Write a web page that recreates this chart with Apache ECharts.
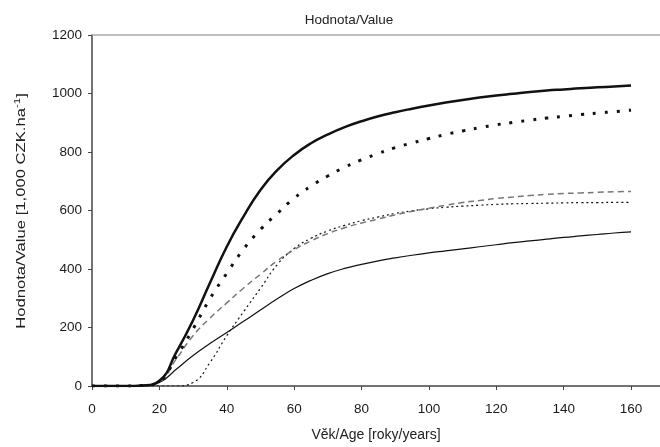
<!DOCTYPE html>
<html><head><meta charset="utf-8">
<script src="https://cdn.jsdelivr.net/npm/echarts@6/dist/echarts.min.js"></script>
<style>html,body{margin:0;padding:0;background:#fff}#c{width:660px;height:447px}</style>
</head><body><div id="c"></div>
<script>
var xTicks = [0,20,40,60,80,100,120,140,160];
var ages = [0,5,10,15,20,25,30,35,40,45,50,55,60,65,70,75,80,85,90,95,100,105,110,115,120,125,130,135,140,145,150,155,160];
var s1 = [0,0,0,2,18,115,225,352,476,580,670,738,790,830,860,885,905,922,936,948,959,969,978,986,993,999,1005,1010,1014,1018,1021,1024,1027];
var s2 = [0,0,0,2,16,100,195,298,385,468,535,590,642,683,718,748,773,795,815,831,846,860,872,883,893,901,909,916,922,928,933,938,943];
var s3 = [0,0,0,2,15,92,172,232,284,335,382,428,466,496,521,541,557,571,585,597,608,618,627,634,641,646,651,655,658,660,662,664,665];
var s4 = [0,0,0,0,0,0,12,80,172,254,334,415,470,505,530,549,565,578,590,599,606,611,615,618,621,623,624,625,626,627,627,628,628];
var s5 = [0,0,0,0,12,57,104,145,183,221,260,298,333,361,384,402,416,428,438,447,455,462,469,476,483,490,496,502,508,513,518,523,527];
var yName = 'Hodnota/Value [1,000 CZK.ha{sup|-1}]';

function pairs(a, v){ return a.map(function(x,i){ return [x, v[i]]; }); }

var chart = echarts.init(document.getElementById('c'));
var font = 'Liberation Sans, Arial, sans-serif';
chart.setOption({
  animation: false,
  title: { text: 'Hodnota/Value', left: 344, top: 8, textAlign: 'center',
    textStyle: { fontFamily: font, fontSize: 13.5, fontWeight: 'normal', color: '#222' } },
  grid: { left: 92, right: 0, top: 35, bottom: 59 },
  graphic: [{
    type: 'text', x: 21, y: 211, rotation: Math.PI / 2, scaleX: 1.28, scaleY: 1.05,
    style: {
      text: yName, font: '13px "Liberation Sans", Arial, sans-serif', fill: '#222',
      align: 'center', verticalAlign: 'middle',
      rich: { sup: { font: '9px "Liberation Sans", Arial, sans-serif', fill: '#222', verticalAlign: 'top', padding: [0,0,6,0] } }
    }
  }],
  xAxis: [{
    type: 'value', min: 0, max: 168.6,
    name: 'Věk/Age [roky/years]', nameLocation: 'middle', nameGap: 42,
    nameTextStyle: { fontFamily: font, fontSize: 14, color: '#222' },
    axisLine: { lineStyle: { color: '#444', width: 1.5 } },
    axisTick: { customValues: xTicks, length: 4, lineStyle: { color: '#444' } },
    axisLabel: { customValues: xTicks, fontFamily: font, fontSize: 13.5, color: '#1a1a1a', margin: 16 },
    splitLine: { show: false }
  }, {
    type: 'value', min: 0, max: 168.6, position: 'top',
    axisLine: { show: true, lineStyle: { color: '#aaa', width: 1.5 } },
    axisTick: { show: false }, axisLabel: { show: false }, splitLine: { show: false }
  }],
  yAxis: {
    type: 'value', min: 0, max: 1200, interval: 200,
    axisLine: { show: true, lineStyle: { color: '#444', width: 1.5 } },
    axisTick: { show: true, length: 4, lineStyle: { color: '#444' } },
    axisLabel: { fontFamily: font, fontSize: 13.5, color: '#1a1a1a', margin: 10,
      formatter: function(v){ return String(v); } },
    splitLine: { show: false }
  },
  series: [
    { type: 'line', data: pairs(ages, s5), smooth: 0.5, showSymbol: false,
      lineStyle: { color: '#111', width: 1.2 } },
    { type: 'line', data: pairs(ages, s4), smooth: 0.5, showSymbol: false,
      lineStyle: { color: '#111', width: 1.2, type: [2, 3] } },
    { type: 'line', data: pairs(ages, s3), smooth: 0.5, showSymbol: false,
      lineStyle: { color: '#777', width: 1.5, type: [6, 4] } },
    { type: 'line', data: pairs(ages, s2), smooth: 0.5, showSymbol: false,
      lineStyle: { color: '#111', width: 3, type: [3, 9] } },
    { type: 'line', data: pairs(ages, s1), smooth: 0.5, showSymbol: false,
      lineStyle: { color: '#111', width: 2.5 } }
  ]
});
</script></body></html>
